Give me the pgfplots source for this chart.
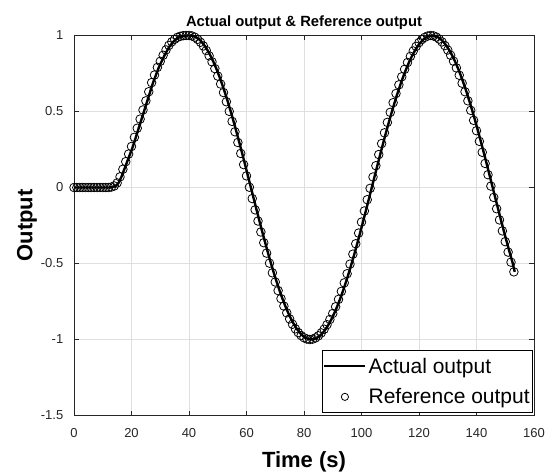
\documentclass[border=0pt]{standalone}
\usepackage{pgfplots}
\pgfplotsset{compat=1.18}
\usepackage{pgfplotstable}
\usepackage{fontspec}
\setmainfont{Liberation Sans}
\definecolor{gridc}{RGB}{223,223,223}
\definecolor{axc}{RGB}{38,38,38}

% t = reference time, ts = time of actual output sample, y = value
\pgfplotstableread{
t ts y
0 0.0 0
1 1.5 0
2 2.5 0
3 3.5 0
4 4.5 0
5 5.5 0
6 6.5 0
7 7.5 0
8 8.5 0
9 9.5 0
10 10.5 0
11 11.5 0
12 12.5 0
13 13.5 0.003
14 14.5 0.010
15 15.5 0.030
16 16.5 0.070
17 17.5 0.120
18 18.5 0.170
19 19.5 0.220
20 20.5 0.270
21 21.5 0.330
22 22.5 0.390
23 23.5 0.450
24 24.5 0.510
25 25.5 0.570
26 26.5 0.630
27 27.5 0.690
28 28.5 0.740
29 29.5 0.790
30 30.5 0.830
31 31.5 0.870
32 32.5 0.905
33 33.5 0.935
34 34.5 0.958
35 35.5 0.975
36 36.5 0.988
37 37.5 0.995
38 38.5 0.999
39 39.5 1.000
40 40.5 1.0000
41 41.5 0.9972
42 42.5 0.9889
43 43.5 0.9750
44 44.5 0.9557
45 45.5 0.9310
46 46.5 0.9012
47 47.5 0.8664
48 48.5 0.8267
49 49.5 0.7822
50 50.5 0.7333
51 51.5 0.6809
52 52.5 0.6245
53 53.5 0.5644
54 54.5 0.5011
55 55.5 0.4351
56 56.5 0.3666
57 57.5 0.2962
58 58.5 0.2241
59 59.5 0.1507
60 60.5 0.0765
61 61.5 0.0019
62 62.5 -0.0727
63 63.5 -0.1470
64 64.5 -0.2204
65 65.5 -0.2927
66 66.5 -0.3632
67 67.5 -0.4318
68 68.5 -0.4979
69 69.5 -0.5613
70 70.5 -0.6216
71 71.5 -0.6782
72 72.5 -0.7311
73 73.5 -0.7800
74 74.5 -0.8246
75 75.5 -0.8646
76 76.5 -0.8996
77 77.5 -0.9297
78 78.5 -0.9545
79 79.5 -0.9741
80 80.5 -0.9883
81 81.5 -0.9969
82 82.5 -1.0000
83 83.5 -0.9975
84 84.5 -0.9894
85 85.5 -0.9758
86 86.5 -0.9568
87 87.5 -0.9324
88 88.5 -0.9028
89 89.5 -0.8682
90 90.5 -0.8288
91 91.5 -0.7846
92 92.5 -0.7360
93 93.5 -0.6836
94 94.5 -0.6273
95 95.5 -0.5674
96 96.5 -0.5043
97 97.5 -0.4385
98 98.5 -0.3702
99 99.5 -0.2998
100 100.5 -0.2277
101 101.5 -0.1544
102 102.5 -0.0802
103 103.5 -0.0056
104 104.5 0.0690
105 105.5 0.1433
106 106.5 0.2168
107 107.5 0.2890
108 108.5 0.3597
109 109.5 0.4283
110 110.5 0.4945
111 111.5 0.5580
112 112.5 0.6184
113 113.5 0.6753
114 114.5 0.7284
115 115.5 0.7775
116 116.5 0.8224
117 117.5 0.8626
118 118.5 0.8980
119 119.5 0.9283
120 120.5 0.9535
121 121.5 0.9733
122 122.5 0.9877
123 123.5 0.9966
124 124.5 1.0000
125 125.5 0.9977
126 126.5 0.9899
127 127.5 0.9766
128 128.5 0.9579
129 129.5 0.9338
130 130.5 0.9045
131 131.5 0.8701
132 132.5 0.8309
133 133.5 0.7869
134 134.5 0.7386
135 135.5 0.6861
136 136.5 0.6300
137 137.5 0.5704
138 138.5 0.5075
139 139.5 0.4418
140 140.5 0.3738
141 141.5 0.3036
142 142.5 0.2316
143 143.5 0.1584
144 144.5 0.0843
145 145.5 0.0094
146 146.5 -0.0653
147 147.5 -0.1396
148 148.5 -0.2132
149 149.5 -0.2855
150 150.5 -0.3562
151 151.5 -0.4250
152 152.5 -0.4913
153 153.3 -0.5550
}\datatable

\begin{document}
\begin{tikzpicture}
\begin{axis}[
  scale only axis,
  width=460bp, height=380bp,
  xmin=0, xmax=160, ymin=-1.5, ymax=1,
  xtick={0,20,40,60,80,100,120,140,160},
  xticklabels={0,20,40,60,80,100,120,140,160},
  ytick={-1.5,-1,-0.5,0,0.5,1},
  yticklabels={-1.5,-1,-0.5,0,0.5,1},
  tick align=inside,
  major tick length=5bp,
  tick style={axc, line width=0.6bp},
  axis line style={axc, line width=0.8bp},
  grid=major,
  major grid style={gridc, line width=0.6bp},
  ticklabel style={font=\fontsize{13bp}{15bp}\selectfont, text=axc, inner sep=0pt},
  xticklabel style={anchor=base, yshift=-22bp},
  yticklabel style={anchor=east, xshift=-10.5bp},
  title={Actual output \& Reference output},
  title style={font=\bfseries\fontsize{14.8bp}{17bp}\selectfont, at={(0.5,1)}, anchor=base, yshift=3.3bp, inner sep=0pt},
  xlabel={Time (s)},
  ylabel={Output},
  xlabel style={font=\bfseries\fontsize{22bp}{26bp}\selectfont, at={(0.5,0)}, anchor=base, yshift=-52bp, inner sep=0pt},
  ylabel style={font=\bfseries\fontsize{22bp}{26bp}\selectfont, at={(axis description cs:-0.1022,0.5)}, anchor=center, inner sep=0pt},
  clip=false,
  legend style={at={(1,0)}, anchor=south east, xshift=-1bp, yshift=2.5bp,
    draw=black, line width=0.6bp, fill=white,
    font=\fontsize{21bp}{24bp}\selectfont,
    inner xsep=1bp, inner ysep=5.5bp, row sep=10bp},
  legend cell align=left,
]
\addplot[black, line width=2.4bp, no markers,
  legend image code/.code={\draw[black, line width=2.4bp] (0bp,0bp) -- (41bp,0bp);}]
  table[x=ts, y=y] {\datatable};
\addlegendentry{Actual output}
\addplot[only marks, mark=o, mark size=4.3bp, mark options={black, line width=0.8bp},
  legend image code/.code={\path[draw=none, fill=none] (0bp,0bp) -- (41bp,0bp); \draw[black, line width=0.8bp, fill=none] (20.5bp,0bp) circle (3.6bp);}]
  table[x=t, y=y] {\datatable};
\addlegendentry{Reference output}
\end{axis}
\pgfresetboundingbox
\path[use as bounding box] ([xshift=-74bp,yshift=-58bp]current axis.south west) rectangle ([xshift=11bp,yshift=35.5bp]current axis.north east);
\end{tikzpicture}
\end{document}
